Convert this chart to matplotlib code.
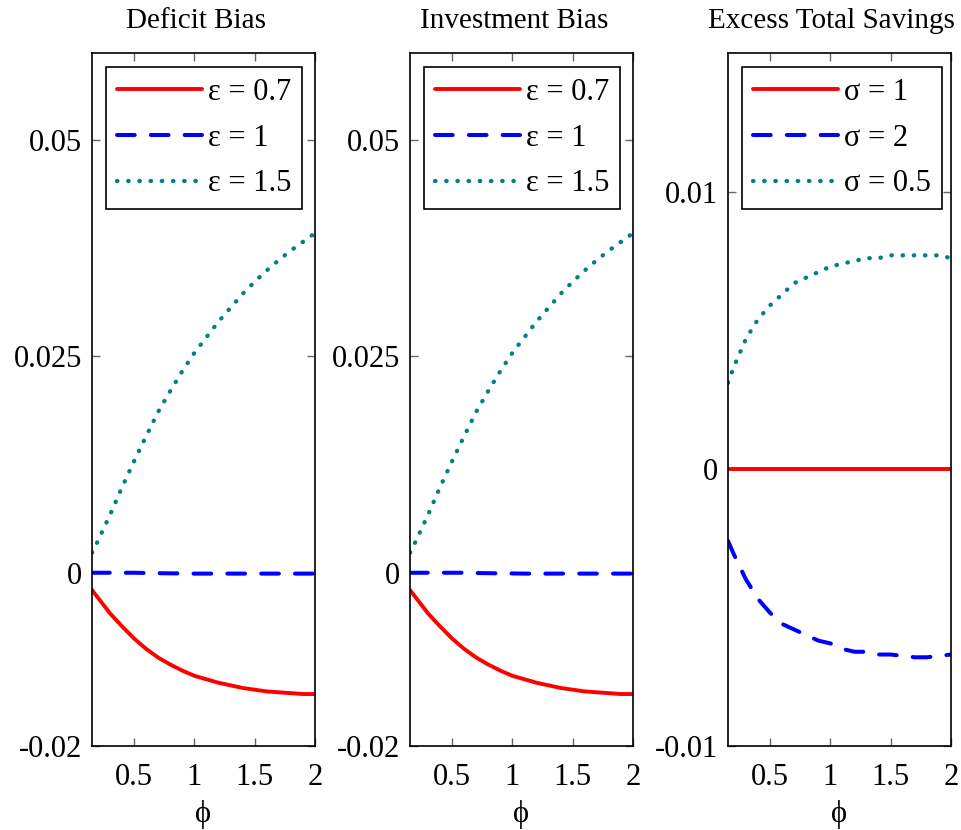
import numpy as np
import matplotlib
matplotlib.use("Agg")
import matplotlib.pyplot as plt

plt.rcParams["font.family"] = ["Liberation Serif", "DejaVu Serif"]
plt.rcParams["axes.unicode_minus"] = False

# phi grid shared by all panels
phi = [0.15, 0.2, 0.3, 0.4, 0.5, 0.6, 0.7, 0.8, 0.9, 1.0,
       1.1, 1.2, 1.3, 1.4, 1.5, 1.6, 1.7, 1.8, 1.9, 2.0]

# Deficit Bias
def_eps07 = [-0.0020, -0.0029, -0.0047, -0.0062, -0.0076, -0.0088, -0.0098, -0.0106, -0.0113, -0.0119,
             -0.0123, -0.0127, -0.0130, -0.0133, -0.0135, -0.0137, -0.0138, -0.0139, -0.0140, -0.0140]
def_eps1 = [0.0, 0.0, 0.0, 0.0, 0.0, -0.00003, -0.00005, -0.00007, -0.00008, -0.0001,
            -0.0001, -0.0001, -0.0001, -0.0001, -0.0001, -0.0001, -0.0001, -0.0001, -0.0001, -0.0001]
def_eps15 = [0.0023, 0.0037, 0.0067, 0.0099, 0.0129, 0.0158, 0.0186, 0.0210, 0.0233, 0.0254,
             0.0272, 0.0290, 0.0306, 0.0322, 0.0336, 0.0349, 0.0361, 0.0372, 0.0382, 0.0392]

# Investment Bias
inv_eps07 = [-0.0020, -0.0029, -0.0047, -0.0062, -0.0076, -0.0088, -0.0098, -0.0106, -0.0113, -0.0119,
             -0.0123, -0.0127, -0.0130, -0.0133, -0.0135, -0.0137, -0.0138, -0.0139, -0.0140, -0.0140]
inv_eps1 = [0.0, 0.0, 0.0, 0.0, 0.0, 0.0, -0.00003, -0.00005, -0.00007, -0.00008,
            -0.0001, -0.0001, -0.0001, -0.0001, -0.0001, -0.0001, -0.0001, -0.0001, -0.0001, -0.0001]
inv_eps15 = [0.0023, 0.0037, 0.0067, 0.0099, 0.0129, 0.0158, 0.0186, 0.0210, 0.0233, 0.0254,
             0.0272, 0.0290, 0.0306, 0.0322, 0.0336, 0.0349, 0.0361, 0.0372, 0.0382, 0.0392]

# Excess Total Savings
sav_sig1 = [0.0] * 20
sav_sig2 = [-0.0026, -0.0031, -0.0040, -0.0047, -0.0052, -0.0056, -0.0058, -0.0060, -0.0062, -0.0063,
            -0.0065, -0.0066, -0.0066, -0.0067, -0.0067, -0.00675, -0.0068, -0.0068, -0.00675, -0.0067]
sav_sig05 = [0.0031, 0.0037, 0.0047, 0.0054, 0.0059, 0.0063, 0.0067, 0.0069, 0.0071, 0.0073,
             0.0074, 0.0075, 0.0076, 0.0076, 0.0077, 0.0077, 0.0077, 0.0077, 0.0077, 0.0076]

titles = ["Deficit Bias", "Investment Bias", "Excess Total Savings"]
eps_labels = ["ε = 0.7", "ε = 1", "ε = 1.5"]
sig_labels = ["σ = 1", "σ = 2", "σ = 0.5"]

panels = [
    (titles[0], [def_eps07, def_eps1, def_eps15], eps_labels, (-0.02, 0.06), [-0.02, 0, 0.025, 0.05], ["-0.02", "0", "0.025", "0.05"]),
    (titles[1], [inv_eps07, inv_eps1, inv_eps15], eps_labels, (-0.02, 0.06), [-0.02, 0, 0.025, 0.05], ["-0.02", "0", "0.025", "0.05"]),
    (titles[2], [sav_sig1, sav_sig2, sav_sig05], sig_labels, (-0.01, 0.015), [-0.01, 0, 0.01], ["-0.01", "0", "0.01"]),
]

fig = plt.figure(figsize=(9.61, 8.3), dpi=100)
lefts = [92, 410, 728]
W, H = 961, 830

for left, (title, series, labels, ylim, yt, ytl) in zip(lefts, panels):
    ax = fig.add_axes([left / W, (830 - 746) / H, 223 / W, (746 - 53) / H])
    ax.plot(phi, series[0], color="#ff0000", lw=2.8, label=labels[0], solid_capstyle="round")
    ax.plot(phi, series[1], color="#0000ff", lw=2.9, label=labels[1],
            dashes=(4.4, 4.0), dash_capstyle="round")
    ax.plot(phi, series[2], color="#008080", lw=3.1, label=labels[2],
            dashes=(0.1, 2.5), dash_capstyle="round")
    ax.set_xlim(0.15, 2)
    ax.set_ylim(*ylim)
    ax.set_xticks([0.5, 1, 1.5, 2])
    ax.set_xticklabels(["0.5", "1", "1.5", "2"])
    ax.set_yticks(yt)
    ax.set_yticklabels(ytl)
    ax.tick_params(direction="in", length=6, width=1, color="0.4", labelsize=22,
                   top=True, right=True)
    ax.tick_params(axis="y", pad=7)
    ax.tick_params(axis="x", pad=12)
    for s in ax.spines.values():
        s.set_linewidth(1.2)
    ax.set_title(title, fontsize=21, pad=18, x=0.465)
    ax.set_xlabel("ϕ", fontsize=22, labelpad=6)
    leg = ax.legend(loc="upper left", bbox_to_anchor=(14 / 223, 1 - 14 / 693),
                    borderaxespad=0, fontsize=22, handlelength=2.8, handletextpad=0.2,
                    labelspacing=0.55, borderpad=0.35, fancybox=False, framealpha=1)
    leg.get_frame().set_edgecolor("black")
    leg.get_frame().set_linewidth(1.2)

plt.savefig("out.png", dpi=100)
